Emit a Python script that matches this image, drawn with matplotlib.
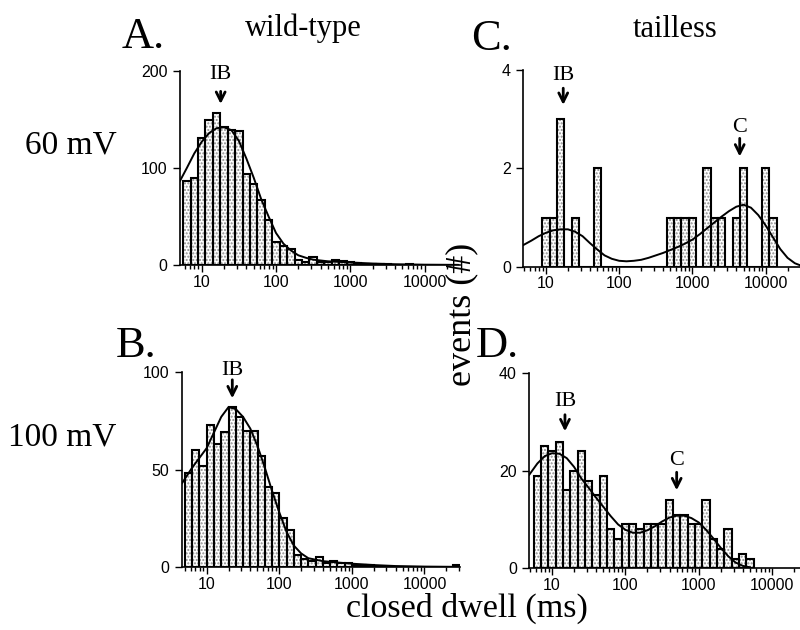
import numpy as np
import matplotlib
matplotlib.use('Agg')
from matplotlib import pyplot as plt
from matplotlib.ticker import LogLocator, NullFormatter

# histogram counts, log-spaced bins of 0.1 decade, first bin starts at 10**start (ms)
a_start = 0.75
a_counts = [87, 90, 131, 149, 157, 142, 139, 138, 94, 83, 67, 46, 24, 20, 17, 5, 3, 8, 3, 3,
            5, 4, 3, 2, 1, 1, 1, 1, 0, 0, 1, 0, 0, 0, 0, 0, 0]
b_start = 0.70
b_counts = [48, 60, 52, 73, 63, 69, 82, 77, 70, 70, 57, 41, 38, 25, 19, 6, 4, 3, 5, 2,
            3, 2, 2, 1, 1, 1, 0, 0, 0, 0, 0, 0, 0, 0, 0, 0, 0, 1]
c_start = 0.95
c_counts = [1, 1, 3, 0, 1, 0, 0, 2, 0, 0, 0, 0, 0, 0, 0, 0, 0, 1, 1, 1, 1, 0, 2, 1, 1, 0,
            1, 2, 0, 0, 2, 1]
d_start = 0.75
d_counts = [19, 25, 24, 26, 16, 20, 24, 18, 15, 19, 8, 6, 9, 9, 8, 9, 9, 9, 14, 11, 11, 9,
            9, 14, 6, 4, 8, 2, 3, 2]

# fitted curves (log10 of dwell in ms, events)
a_fit_logt = [0.71, 0.8, 0.9, 1.0, 1.1, 1.2, 1.3, 1.4, 1.5, 1.6, 1.7, 1.8, 1.9, 2.0, 2.1, 2.2,
              2.3, 2.4, 2.5, 2.7, 3.0, 3.3, 3.6, 4.0, 4.45]
a_fit_val = [87, 100, 115, 127, 136, 141, 142, 139, 128, 110, 90, 68, 50, 33, 22, 15,
             10, 7.5, 5.5, 3.8, 2.6, 1.5, 0.8, 0.3, 0.1]
b_fit_logt = [0.66, 0.8, 0.9, 1.0, 1.1, 1.2, 1.3, 1.4, 1.5, 1.6, 1.7, 1.8, 1.9, 2.0, 2.1, 2.2,
              2.3, 2.4, 2.6, 2.8, 3.0, 3.3, 3.6, 4.0, 4.48]
b_fit_val = [43, 51, 56, 61, 69, 77, 82, 81, 77, 71, 62, 51, 39, 28, 18, 11,
             7, 4.5, 3, 2.3, 1.7, 1, 0.5, 0.2, 0.05]
c_fit_logt = [0.69, 0.8, 0.9, 1.0, 1.1, 1.2, 1.3, 1.4, 1.5, 1.6, 1.7, 1.8, 1.9, 2.0, 2.1,
              2.2, 2.3, 2.4, 2.5, 2.6, 2.7, 2.8, 2.9, 3.0, 3.1, 3.2, 3.3, 3.4, 3.5, 3.6,
              3.7, 3.8, 3.9, 4.0, 4.1, 4.2, 4.3, 4.4, 4.47]
c_fit_val = [0.44, 0.53, 0.62, 0.69, 0.74, 0.76, 0.76, 0.71, 0.62, 0.48, 0.35, 0.23, 0.16,
             0.12, 0.11, 0.12, 0.14, 0.18, 0.23, 0.28, 0.34, 0.40, 0.47, 0.55, 0.66, 0.78,
             0.90, 1.02, 1.13, 1.22, 1.26, 1.20, 1.05, 0.84, 0.60, 0.36, 0.18, 0.07, 0.03]
d_fit_logt = [0.69, 0.8, 0.9, 1.0, 1.1, 1.2, 1.3, 1.4, 1.5, 1.6, 1.7, 1.8, 1.9, 2.0, 2.1,
              2.2, 2.3, 2.4, 2.5, 2.6, 2.7, 2.8, 2.9, 3.0, 3.1, 3.2, 3.3, 3.4, 3.5, 3.6, 3.7]
d_fit_val = [19.2, 21.5, 23.0, 23.6, 23.5, 22.6, 20.8, 18.4, 16.5, 14.5, 12.6, 10.7, 9.0,
             7.9, 7.3, 7.3, 7.8, 8.6, 9.6, 10.4, 10.8, 10.8, 10.3, 9.4, 7.9, 6.1, 4.2, 2.5,
             1.2, 0.5, 0.2]

# peak markers: (label, dwell ms, text y, arrow tail y, arrow tip y)
a_marks = [('IB', 18, 196, 179, 166)]
b_marks = [('IB', 22.5, 101, 96, 86.5)]
c_marks = [('IB', 17.2, 3.89, 3.63, 3.29), ('C', 4430, 2.83, 2.61, 2.24)]
d_marks = [('IB', 15, 34.2, 31.5, 28.1), ('C', 500, 22.1, 19.7, 16.0)]

SERIF = 'Liberation Serif'
SANS = 'Liberation Sans'

fig = plt.figure(figsize=(8, 6.3), dpi=100)


def panel(rect, start, counts, fit_logt, fit_val, marks, xlim_log, ylim, yticks):
    ax = fig.add_axes(rect)
    n = len(counts)
    edges = 10 ** (start + 0.1 * np.arange(n + 1))
    lefts = edges[:-1]
    widths = np.diff(edges)
    # speckled fill, then black outlines
    ax.bar(lefts, counts, width=widths, align='edge', color='white', hatch='.....',
           edgecolor='#8c8c8c', linewidth=0)
    ax.bar(lefts, counts, width=widths, align='edge', fill=False, edgecolor='black',
           linewidth=1.5)
    ax.plot(10 ** np.array(fit_logt), fit_val, color='black', lw=1.4)
    ax.set_xscale('log')
    ax.set_xlim(10 ** xlim_log[0], 10 ** xlim_log[1])
    ax.set_ylim(*ylim)
    ax.set_yticks(yticks)
    ax.set_yticklabels([str(t) for t in yticks], fontfamily=SANS, fontsize=11.5)
    ax.set_xticks([10, 100, 1000, 10000])
    ax.set_xticklabels(['10', '100', '1000', '10000'], fontfamily=SANS, fontsize=11.5)
    ax.xaxis.set_minor_locator(LogLocator(base=10, subs=np.arange(2, 10), numticks=20))
    ax.xaxis.set_minor_formatter(NullFormatter())
    ax.tick_params(axis='both', which='major', direction='out', length=5, width=1, pad=4)
    ax.tick_params(axis='x', which='major', pad=2)
    ax.tick_params(axis='x', which='minor', direction='out', length=3, width=1)
    for s in ('top', 'right'):
        ax.spines[s].set_visible(False)
    for s in ('left', 'bottom'):
        ax.spines[s].set_linewidth(1.2)
    for label, x, ty, tail, tip in marks:
        ax.text(x, ty, label, ha='center', va='center', fontfamily=SERIF, fontsize=16,
                clip_on=False)
        ax.annotate('', xy=(x, tip), xytext=(x, tail), annotation_clip=False,
                    arrowprops=dict(arrowstyle='->', lw=2, color='black',
                                    mutation_scale=16, shrinkA=0, shrinkB=0))
    return ax


W, H = 800, 630


def rect(x0, x1, ytop, ybot):
    return [x0 / W, 1 - ybot / H, (x1 - x0) / W, (ybot - ytop) / H]


panel(rect(180, 460, 71, 265), a_start, a_counts, a_fit_logt, a_fit_val, a_marks,
      (0.708, 4.476), (0, 200), [0, 100, 200])
panel(rect(181.7, 460, 372, 567), b_start, b_counts, b_fit_logt, b_fit_val, b_marks,
      (0.655, 4.49), (0, 100), [0, 50, 100])
panel(rect(523.3, 800, 70, 266.7), c_start, c_counts, c_fit_logt, c_fit_val, c_marks,
      (0.69, 4.47), (0, 4), [0, 2, 4])
panel(rect(529.3, 800, 373.3, 568.3), d_start, d_counts, d_fit_logt, d_fit_val, d_marks,
      (0.69, 4.38), (0, 40), [0, 20, 40])

# panel letters and headings
big = dict(fontfamily=SERIF, fontsize=32, va='baseline', ha='left')
fig.text(122 / W, 1 - 48 / H, 'A.', **big)
fig.text(471 / W, 1 - 50 / H, 'C.', **big)
fig.text(116 / W, 1 - 357 / H, 'B.', **big)
fig.text(476 / W, 1 - 357 / H, 'D.', **big)
fig.text(245 / W, 1 - 36 / H, 'wild-type', fontfamily=SERIF, fontsize=22, va='baseline')
fig.text(633 / W, 1 - 37 / H, 'tailless', fontfamily=SERIF, fontsize=22, va='baseline')
fig.text(25 / W, 1 - 154 / H, '60 mV', fontfamily=SERIF, fontsize=24, va='baseline')
fig.text(8 / W, 1 - 445 / H, '100 mV', fontfamily=SERIF, fontsize=24, va='baseline')
fig.text(462 / W, 1 - 314 / H, 'events (#)', fontfamily=SERIF, fontsize=26,
         rotation=90, ha='center', va='center')
fig.text(467 / W, 1 - 617 / H, 'closed dwell (ms)', fontfamily=SERIF, fontsize=24.5,
         ha='center', va='baseline')

plt.savefig('out.png', dpi=100)
